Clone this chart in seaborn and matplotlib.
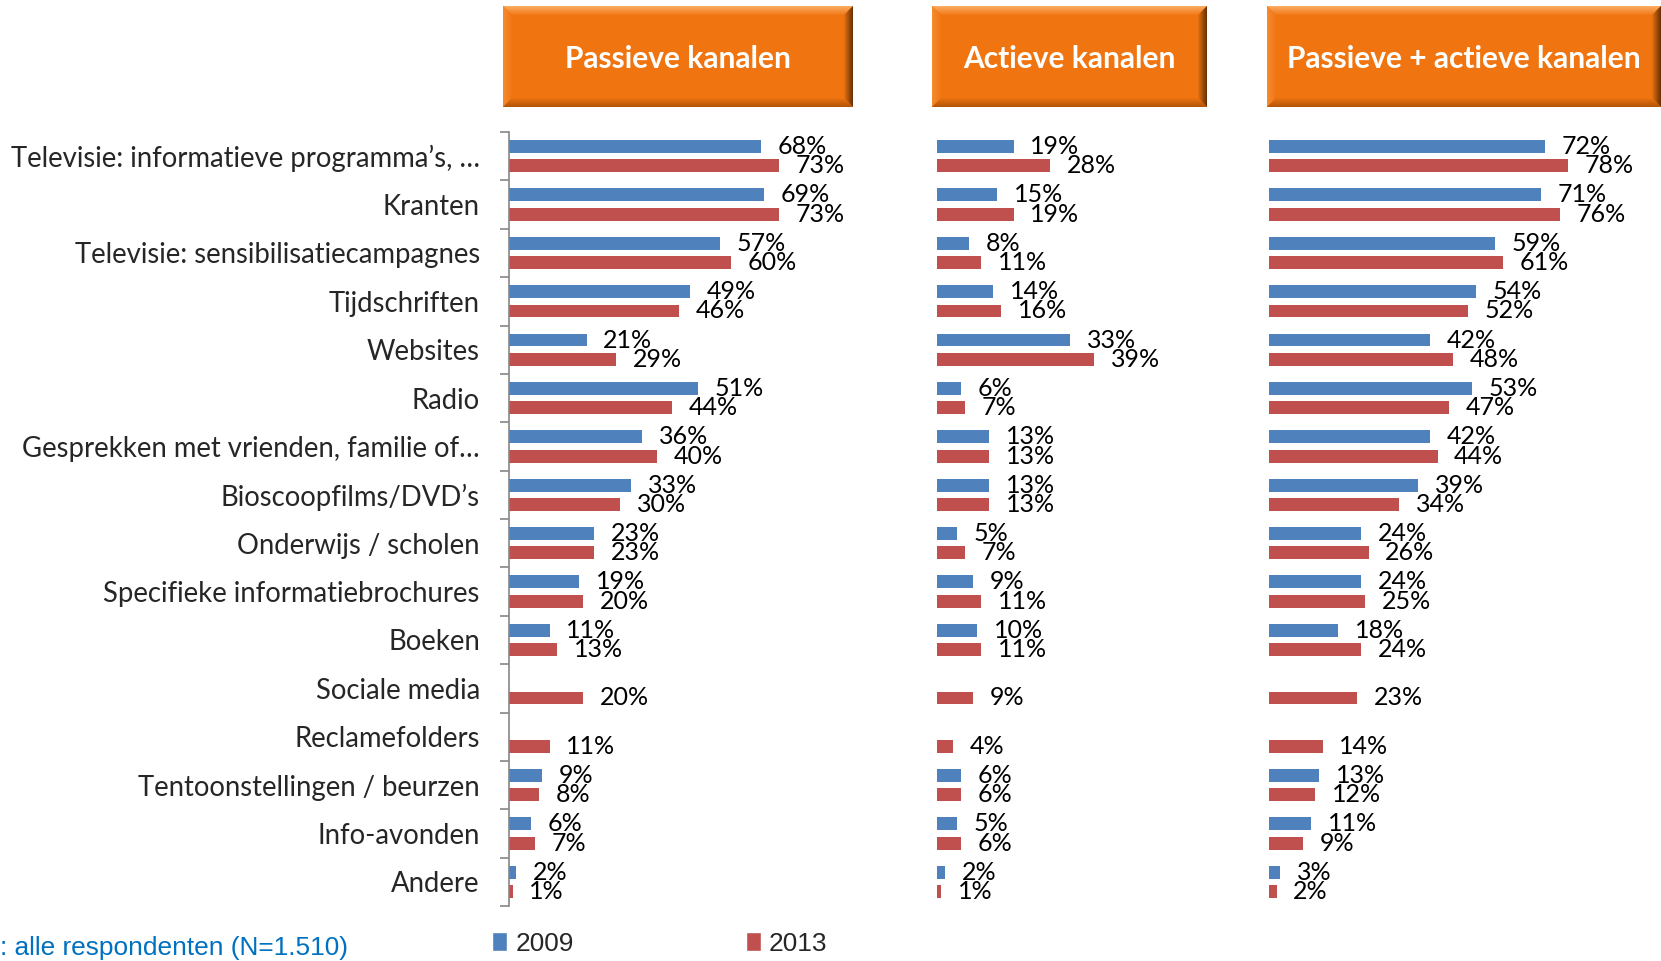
import numpy as np
import pandas as pd
import matplotlib
matplotlib.use("Agg")
import matplotlib.pyplot as plt
import seaborn as sns
from matplotlib.patches import Rectangle, Polygon
from matplotlib import font_manager
from matplotlib.colors import to_rgb

# ---- data -------------------------------------------------------------
categories = [
    "Televisie: informatieve programma’s, …",
    "Kranten",
    "Televisie: sensibilisatiecampagnes",
    "Tijdschriften",
    "Websites",
    "Radio",
    "Gesprekken met vrienden, familie of…",
    "Bioscoopfilms/DVD’s",
    "Onderwijs / scholen",
    "Specifieke informatiebrochures",
    "Boeken",
    "Sociale media",
    "Reclamefolders",
    "Tentoonstellingen / beurzen",
    "Info-avonden",
    "Andere",
]
years = ["2009", "2013"]
passief_2009 = [68, 69, 57, 49, 21, 51, 36, 33, 23, 19, 11, None, None, 9, 6, 2]
passief_2013 = [73, 73, 60, 46, 29, 44, 40, 30, 23, 20, 13, 20, 11, 8, 7, 1]
actief_2009 = [19, 15, 8, 14, 33, 6, 13, 13, 5, 9, 10, None, None, 6, 5, 2]
actief_2013 = [28, 19, 11, 16, 39, 7, 13, 13, 7, 11, 11, 9, 4, 6, 6, 1]
beide_2009 = [72, 71, 59, 54, 42, 53, 42, 39, 24, 24, 18, None, None, 13, 11, 3]
beide_2013 = [78, 76, 61, 52, 48, 47, 44, 34, 26, 25, 24, 23, 14, 12, 9, 2]
panel_titles = ["Passieve kanalen", "Actieve kanalen", "Passieve + actieve kanalen"]
footnote = ": alle respondenten (N=1.510)"

BLUE = "#4F81BD"
RED = "#C0504D"
ORANGE = "#F07511"

# ---- style ------------------------------------------------------------
sns.set_style("white")
plt.rcParams["font.family"] = ["Lato", "DejaVu Sans"]
installed = {f.name for f in font_manager.fontManager.ttflist}
if "Liberation Sans Narrow" in installed:
    narrow, nscale = "Liberation Sans Narrow", 1.0
else:
    narrow, nscale = "Liberation Sans", 0.82

W, H = 1661, 961
fig = plt.figure(figsize=(W / 100, H / 100), dpi=100)


def px_axes(x0, width, y_top=132, y_bot=906):
    return fig.add_axes([x0 / W, 1 - y_bot / H, width / W, (y_bot - y_top) / H])


def long_table(v2009, v2013):
    rows = []
    for cat, a, b in zip(categories, v2009, v2013):
        if a is not None:
            rows.append((cat, years[0], a))
        if b is not None:
            rows.append((cat, years[1], b))
    return pd.DataFrame(rows, columns=["kanaal", "jaar", "pct"])


panels = [
    (long_table(passief_2009, passief_2013), 509, 370, 100),
    (long_table(actief_2009, actief_2013), 937, 201.5, 50),
    (long_table(beide_2009, beide_2013), 1269, 383, 100),
]

for i, (df, x0, width, xmax) in enumerate(panels):
    ax = px_axes(x0, width)
    ax.patch.set_alpha(0)
    sns.barplot(
        data=df, x="pct", y="kanaal", hue="jaar", order=categories,
        hue_order=years, palette=[BLUE, RED], orient="h", width=0.80,
        gap=0.33, saturation=1, legend=False, ax=ax, linewidth=0,
    )
    for cont in ax.containers:
        ax.bar_label(cont, fmt="{:.0f}%", padding=12, fontsize=18,
                     color="black", clip_on=False)
    ax.set_xlim(0, xmax)
    ax.set_ylim(len(categories) - 0.5, -0.5)
    ax.set_xlabel("")
    ax.set_ylabel("")
    ax.set_xticks([])
    for s in ["top", "right", "bottom"]:
        ax.spines[s].set_visible(False)
    if i == 0:
        ax.spines["left"].set_color("#868686")
        ax.spines["left"].set_linewidth(1.2)
        ax.set_yticks(np.arange(len(categories)))
        ax.set_yticklabels(categories)
        ax.tick_params(axis="y", which="major", length=0, pad=21, labelsize=19.8)
        ax.set_yticks(np.arange(-0.5, len(categories)), minor=True)
        ax.tick_params(axis="y", which="minor", length=6.5, width=1.2,
                       color="#868686", left=True)
    else:
        ax.spines["left"].set_visible(False)
        ax.set_yticks([])

# ---- bevelled header boxes ---------------------------------------------
ov = fig.add_axes([0, 0, 1, 1])
ov.set_xlim(0, W)
ov.set_ylim(H, 0)
ov.axis("off")
ov.patch.set_alpha(0)


def mix(c1, c2, t):
    a, b = np.array(to_rgb(c1)), np.array(to_rgb(c2))
    return tuple(a + (b - a) * t)


def header(x0, y0, x1, y1, label):
    ov.add_patch(Rectangle((x0, y0), x1 - x0, y1 - y0, fc=ORANGE, ec="none"))
    bev = 9
    edges = {"top": "#FBAA60", "left": "#F48A30", "right": "#6B3204",
             "bottom": "#B45608"}
    for k in range(bev):
        t = k / bev
        a, b = k, k + 1
        ov.add_patch(Polygon([(x0 + a, y0 + a), (x1 - a, y0 + a), (x1 - b, y0 + b), (x0 + b, y0 + b)],
                             fc=mix(edges["top"], ORANGE, t), ec="none"))
        ov.add_patch(Polygon([(x0 + a, y0 + a), (x0 + b, y0 + b), (x0 + b, y1 - b), (x0 + a, y1 - a)],
                             fc=mix(edges["left"], ORANGE, t), ec="none"))
        ov.add_patch(Polygon([(x1 - a, y0 + a), (x1 - a, y1 - a), (x1 - b, y1 - b), (x1 - b, y0 + b)],
                             fc=mix(edges["right"], ORANGE, t), ec="none"))
        ov.add_patch(Polygon([(x0 + a, y1 - a), (x0 + b, y1 - b), (x1 - b, y1 - b), (x1 - a, y1 - a)],
                             fc=mix(edges["bottom"], ORANGE, t), ec="none"))
    ov.text((x0 + x1) / 2, (y0 + y1) / 2 + 2, label, color="white",
            fontsize=21.5, fontweight="bold", ha="center", va="center")


for (bx0, bx1), title in zip([(503, 853), (932, 1207), (1267, 1661)], panel_titles):
    header(bx0, 6, bx1, 107, title)

# ---- legend and footnote -----------------------------------------------
handles = [Rectangle((0, 0), 1, 1, fc=BLUE), Rectangle((0, 0), 1, 1, fc=RED)]
leg_size = 23 * nscale
fig.legend(handles, years, loc="center left", bbox_to_anchor=(492 / W, 1 - 944 / H),
           ncol=2, frameon=False, handlelength=11 / leg_size, handleheight=14 / leg_size,
           handletextpad=0.3, columnspacing=124 / leg_size, borderpad=0, borderaxespad=0,
           prop={"family": narrow, "size": leg_size})
fig.text(0, 1 - 948 / H, footnote, color="#0070C0", fontsize=23 * nscale,
         family=narrow, ha="left", va="center")

fig.savefig("out.png", dpi=100)
